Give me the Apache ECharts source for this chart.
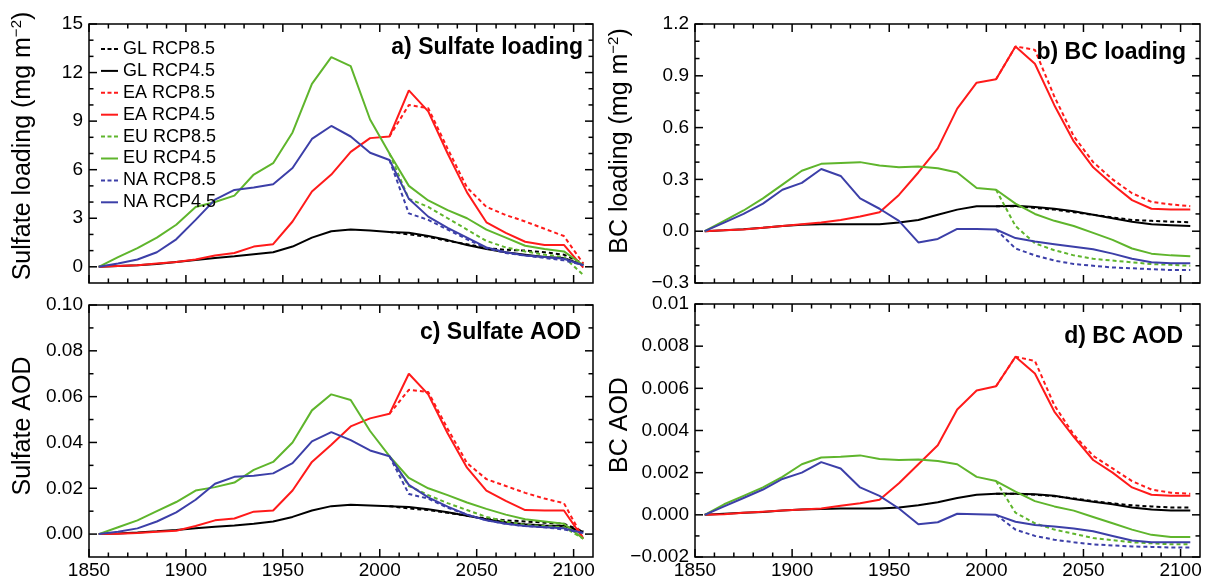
<!DOCTYPE html>
<html>
<head>
<meta charset="utf-8">
<script src="https://cdn.jsdelivr.net/npm/echarts@6/dist/echarts.min.js"></script>
<style>html,body{margin:0;padding:0;background:#fff;}#c{width:1206px;height:580px;}</style>
</head>
<body>
<div id="c"></div>
<script>
// ---------------- DATA ----------------
const years = [1855,1865,1875,1885,1895,1905,1915,1925,1935,1945,1955,1965,1975,1985,1995,2005,2015,2025,2035,2045,2055,2065,2075,2085,2095,2105];
const futureYears = [2005,2015,2025,2035,2045,2055,2065,2075,2085,2095,2105];

// a) Sulfate loading (mg m-2)
const sulfLoad_GL45 = [0,0.05,0.1,0.18,0.3,0.42,0.55,0.65,0.78,0.9,1.25,1.8,2.2,2.3,2.25,2.15,2.1,1.9,1.65,1.35,1.1,0.9,0.75,0.6,0.55,0.1];
const sulfLoad_GL85 = [2.15,2.0,1.85,1.6,1.4,1.15,1.05,1.0,0.9,0.75,0.2];
const sulfLoad_EA45 = [0,0.05,0.1,0.2,0.3,0.45,0.7,0.85,1.25,1.4,2.8,4.65,5.7,7.1,7.95,8.05,10.9,9.6,7.0,4.6,2.75,2.1,1.55,1.35,1.35,-0.05];
const sulfLoad_EA85 = [8.05,10.0,9.8,7.3,4.9,3.7,3.2,2.8,2.35,1.9,0.2];
const sulfLoad_EU45 = [0,0.6,1.15,1.8,2.6,3.7,4.0,4.4,5.7,6.4,8.3,11.3,12.95,12.4,9.1,7.0,5.0,4.1,3.5,3.0,2.3,1.8,1.3,1.1,0.95,0.1];
const sulfLoad_EU85 = [7.0,4.2,3.7,3.0,2.3,1.6,1.2,0.95,0.75,0.6,-0.5];
const sulfLoad_NA45 = [0,0.2,0.45,0.9,1.7,2.9,4.15,4.75,4.9,5.1,6.1,7.9,8.7,8.05,7.05,6.6,4.2,3.1,2.4,1.8,1.2,0.9,0.7,0.6,0.5,0.1];
const sulfLoad_NA85 = [6.6,3.3,2.9,2.3,1.7,1.15,0.85,0.7,0.55,0.4,0.1];

// b) BC loading (mg m-2)
const bcLoad_GL45 = [0,0.005,0.012,0.02,0.03,0.037,0.04,0.04,0.04,0.04,0.05,0.065,0.095,0.125,0.145,0.145,0.147,0.14,0.13,0.115,0.095,0.075,0.055,0.04,0.035,0.03];
const bcLoad_GL85 = [0.145,0.145,0.135,0.125,0.11,0.095,0.08,0.065,0.06,0.055,0.052];
const bcLoad_EA45 = [0,0.005,0.01,0.02,0.03,0.04,0.05,0.065,0.085,0.11,0.21,0.34,0.48,0.71,0.86,0.88,1.07,0.97,0.73,0.52,0.37,0.27,0.18,0.13,0.125,0.125];
const bcLoad_EA85 = [0.88,1.07,1.05,0.78,0.55,0.4,0.3,0.22,0.17,0.155,0.145];
const bcLoad_EU45 = [0,0.06,0.12,0.19,0.27,0.35,0.39,0.395,0.4,0.38,0.37,0.375,0.365,0.34,0.25,0.24,0.16,0.1,0.06,0.03,-0.01,-0.05,-0.1,-0.13,-0.14,-0.145];
const bcLoad_EU85 = [0.24,0.03,-0.07,-0.11,-0.14,-0.16,-0.17,-0.18,-0.19,-0.195,-0.2];
const bcLoad_NA45 = [0,0.05,0.1,0.16,0.24,0.28,0.36,0.32,0.19,0.13,0.06,-0.065,-0.045,0.013,0.013,0.01,-0.04,-0.06,-0.075,-0.09,-0.105,-0.13,-0.16,-0.18,-0.185,-0.185];
const bcLoad_NA85 = [0.01,-0.1,-0.14,-0.17,-0.19,-0.2,-0.21,-0.215,-0.22,-0.225,-0.225];

// c) Sulfate AOD
const sulfAod_GL45 = [0,0.0003,0.0007,0.0012,0.0018,0.0025,0.0032,0.0038,0.0045,0.0055,0.0075,0.0103,0.0122,0.0128,0.0125,0.0122,0.0118,0.0108,0.0095,0.008,0.0065,0.0052,0.0043,0.0038,0.0035,0.001];
const sulfAod_GL85 = [0.0122,0.0112,0.0105,0.0093,0.008,0.0068,0.006,0.0055,0.005,0.0045,0.0012];
const sulfAod_EA45 = [0,0.0002,0.0005,0.001,0.0015,0.0035,0.006,0.0068,0.0098,0.0103,0.019,0.0315,0.039,0.047,0.0505,0.0525,0.07,0.061,0.044,0.029,0.019,0.0145,0.0105,0.0103,0.0103,-0.002];
const sulfAod_EA85 = [0.0525,0.063,0.062,0.046,0.031,0.024,0.021,0.018,0.0155,0.0135,-0.002];
const sulfAod_EU45 = [0,0.003,0.006,0.01,0.014,0.019,0.0205,0.0225,0.028,0.0315,0.04,0.054,0.061,0.0585,0.045,0.034,0.0245,0.02,0.017,0.0138,0.011,0.0085,0.0065,0.0055,0.0045,-0.002];
const sulfAod_EU85 = [0.034,0.021,0.017,0.0135,0.0105,0.0075,0.0055,0.004,0.0035,0.003,-0.002];
const sulfAod_NA45 = [0,0.001,0.0025,0.0055,0.0095,0.015,0.022,0.025,0.0255,0.0265,0.031,0.0405,0.0445,0.041,0.0365,0.034,0.0215,0.016,0.012,0.0085,0.006,0.0045,0.0035,0.003,0.0025,0.0005];
const sulfAod_NA85 = [0.034,0.0175,0.0155,0.0115,0.0085,0.006,0.0045,0.0035,0.003,0.002,0.0005];

// d) BC AOD
const bcAod_GL45 = [0,0.00005,0.0001,0.00013,0.0002,0.00025,0.00028,0.0003,0.0003,0.0003,0.00035,0.00045,0.0006,0.0008,0.00095,0.001,0.001,0.00098,0.0009,0.00075,0.00062,0.0005,0.00035,0.00025,0.0002,0.0002];
const bcAod_GL85 = [0.001,0.001,0.00095,0.00088,0.00078,0.00065,0.00055,0.00045,0.0004,0.00035,0.00035];
const bcAod_EA45 = [0,0.00003,0.0001,0.00015,0.0002,0.00025,0.0003,0.00043,0.00055,0.00072,0.0015,0.0024,0.0033,0.005,0.0059,0.0061,0.0075,0.0067,0.0049,0.0037,0.0026,0.002,0.0013,0.00095,0.0009,0.0009];
const bcAod_EA85 = [0.0061,0.0075,0.0073,0.0052,0.0038,0.0028,0.0022,0.0016,0.0012,0.00105,0.001];
const bcAod_EU45 = [0,0.0005,0.0009,0.0013,0.0018,0.0024,0.00272,0.00275,0.00282,0.00265,0.0026,0.00263,0.00255,0.0024,0.0018,0.0016,0.0011,0.00065,0.0004,0.0002,-0.0001,-0.0004,-0.0007,-0.00095,-0.00105,-0.00105];
const bcAod_EU85 = [0.0016,0.0001,-0.0004,-0.0007,-0.0009,-0.0011,-0.0012,-0.0013,-0.00135,-0.0014,-0.0014];
const bcAod_NA45 = [0,0.0004,0.0008,0.0012,0.0017,0.002,0.0025,0.0022,0.0013,0.0009,0.0003,-0.00045,-0.00035,0.00005,0.00003,0,-0.00033,-0.00048,-0.00055,-0.00065,-0.00078,-0.001,-0.00122,-0.0013,-0.0013,-0.0013];
const bcAod_NA85 = [0,-0.0007,-0.001,-0.00118,-0.0013,-0.0014,-0.00145,-0.0015,-0.00152,-0.00155,-0.00155];

// ticks
const xMajorTicks = [1850,1900,1950,2000,2050,2100];
const xMinorTicks = [1860,1870,1880,1890,1910,1920,1930,1940,1960,1970,1980,1990,2010,2020,2030,2040,2060,2070,2080,2090];
const sulfLoadTicks = [0,3,6,9,12,15];
const sulfLoadMinor = [1,2,4,5,7,8,10,11,13,14];
const bcLoadTicks = [-0.3,0,0.3,0.6,0.9,1.2];
const bcLoadMinor = [-0.2,-0.1,0.1,0.2,0.4,0.5,0.7,0.8,1.0,1.1];
const sulfAodTicks = [0,0.02,0.04,0.06,0.08,0.10];
const sulfAodMinor = [0.01,0.03,0.05,0.07,0.09];
const bcAodTicks = [-0.002,0,0.002,0.004,0.006,0.008,0.01];
const bcAodMinor = [-0.001,0.001,0.003,0.005,0.007,0.009];

const legendNames = ['GL RCP8.5','GL RCP4.5','EA RCP8.5','EA RCP4.5','EU RCP8.5','EU RCP4.5','NA RCP8.5','NA RCP4.5'];

// ---------------- BUILD ----------------
const FONT = "'Liberation Sans', Arial, Helvetica, sans-serif";
const colors = {GL:'#000000', EA:'#ff1a1a', EU:'#5fb52c', NA:'#3c3fa8'};
const minus = v => (v < 0 ? '\u2212' : '');
const ICON_SOLID = 'path://M0,0h17v2h-17z';
const ICON_DASH = 'path://M0,0h4v2h-4z M6.5,0h4v2h-4z M13,0h4v2h-4z';
const X_MIN = 1850, X_MAX = 2110;

const panels = [
  {grid:{left:89, top:24, width:504, height:259}, ymin:-1, ymax:15, ticks:sulfLoadTicks, minor:sulfLoadMinor,
   fmt:v => String(v), name:'{a|Sulfate loading (mg m}{s|\u22122}{a|)}', nx:23, ny:146, title:'a) Sulfate loading', tRight:623, tTop:36, xLabels:false,
   d:{GL:[sulfLoad_GL45,sulfLoad_GL85], EA:[sulfLoad_EA45,sulfLoad_EA85], EU:[sulfLoad_EU45,sulfLoad_EU85], NA:[sulfLoad_NA45,sulfLoad_NA85]}},
  {grid:{left:695, top:24, width:505, height:259}, ymin:-0.3, ymax:1.2, ticks:bcLoadTicks, minor:bcLoadMinor,
   fmt:v => minus(v) + Math.abs(v).toFixed(1), name:'{a|BC loading (mg m}{s|\u22122}{a|)}', nx:620, ny:141, title:'b) BC loading', tRight:20, tTop:41, xLabels:false,
   d:{GL:[bcLoad_GL45,bcLoad_GL85], EA:[bcLoad_EA45,bcLoad_EA85], EU:[bcLoad_EU45,bcLoad_EU85], NA:[bcLoad_NA45,bcLoad_NA85]}},
  {grid:{left:89, top:305, width:504, height:252}, ymin:-0.01, ymax:0.10, ticks:sulfAodTicks, minor:sulfAodMinor,
   fmt:v => v.toFixed(2), name:'{a|Sulfate AOD}', nx:23, ny:426, title:'c) Sulfate AOD', tRight:625, tTop:321, xLabels:true,
   d:{GL:[sulfAod_GL45,sulfAod_GL85], EA:[sulfAod_EA45,sulfAod_EA85], EU:[sulfAod_EU45,sulfAod_EU85], NA:[sulfAod_NA45,sulfAod_NA85]}},
  {grid:{left:695, top:304, width:505, height:253}, ymin:-0.002, ymax:0.01, ticks:bcAodTicks, minor:bcAodMinor,
   fmt:v => (Math.abs(v - 0.01) < 1e-9 ? '0.01' : minus(v) + Math.abs(v).toFixed(3)), name:'{a|BC AOD}', nx:620, ny:425, title:'d) BC AOD', tRight:23, tTop:325, xLabels:true,
   d:{GL:[bcAod_GL45,bcAod_GL85], EA:[bcAod_EA45,bcAod_EA85], EU:[bcAod_EU45,bcAod_EU85], NA:[bcAod_NA45,bcAod_NA85]}}
];

const grid = [], xAxis = [], yAxis = [], series = [], title = [], graphic = [];

// Frame tick marks drawn through the axis scales (api.coord) on all four sides
function tickSeries(i, p, vals, len, horizontal) {
  return {type:'custom', xAxisIndex:i, yAxisIndex:i, silent:true, clip:false, z:5,
    data: vals.map(v => [v]),
    renderItem: (params, api) => {
      const cs = params.coordSys;
      const v = api.value(0);
      const st = {stroke:'#000', lineWidth:1.5};
      if (horizontal) {
        const x = api.coord([v, p.ymin])[0];
        return {type:'group', children:[
          {type:'line', shape:{x1:x, y1:cs.y + cs.height, x2:x, y2:cs.y + cs.height - len}, style:st},
          {type:'line', shape:{x1:x, y1:cs.y, x2:x, y2:cs.y + len}, style:st}]};
      }
      const y = api.coord([X_MIN, v])[1];
      return {type:'group', children:[
        {type:'line', shape:{x1:cs.x, y1:y, x2:cs.x + len, y2:y}, style:st},
        {type:'line', shape:{x1:cs.x + cs.width, y1:y, x2:cs.x + cs.width - len, y2:y}, style:st}]};
    }};
}

panels.forEach((p, i) => {
  grid.push(Object.assign({show:true, borderColor:'#000', borderWidth:1.5, backgroundColor:'transparent', containLabel:false, outerBoundsMode:'none'}, p.grid));
  xAxis.push({gridIndex:i, type:'value', min:X_MIN, max:X_MAX, position:'bottom',
    axisLine:{show:false, onZero:false}, splitLine:{show:false}, axisTick:{show:false},
    axisLabel:{show:p.xLabels, customValues:xMajorTicks, formatter:v => String(v), fontSize:19, color:'#000', fontFamily:FONT, margin:4}});
  yAxis.push({gridIndex:i, type:'value', min:p.ymin, max:p.ymax, position:'left',
    axisLine:{show:false, onZero:false}, splitLine:{show:false}, axisTick:{show:false},
    axisLabel:{show:true, customValues:p.ticks, formatter:p.fmt, fontSize:19, color:'#000', fontFamily:FONT, margin:6}});

  ['GL','EA','EU','NA'].forEach(r => {
    const [v45, v85] = p.d[r];
    series.push({name:r + ' RCP4.5', type:'line', xAxisIndex:i, yAxisIndex:i, symbol:'none', showSymbol:false,
      lineStyle:{color:colors[r], width:2, type:'solid'}, itemStyle:{color:colors[r]},
      data:years.map((y, k) => [y, v45[k]])});
    series.push({name:r + ' RCP8.5', type:'line', xAxisIndex:i, yAxisIndex:i, symbol:'none', showSymbol:false,
      lineStyle:{color:colors[r], width:2, type:[4,3]}, itemStyle:{color:colors[r]},
      data:futureYears.map((y, k) => [y, v85[k]])});
  });

  series.push(tickSeries(i, p, xMajorTicks, 8, true));
  series.push(tickSeries(i, p, xMinorTicks, 4.5, true));
  series.push(tickSeries(i, p, p.ticks, 8, false));
  series.push(tickSeries(i, p, p.minor, 4.5, false));

  title.push({text:p.title, right:p.tRight, top:p.tTop, padding:0,
    textStyle:{fontSize:23, fontWeight:'bold', fontFamily:FONT, color:'#000'}});

  graphic.push({type:'text', x:p.nx, y:p.ny, rotation:Math.PI/2, silent:true,
    style:{text:p.name, align:'center', verticalAlign:'middle', fill:'#000',
      rich:{a:{fontSize:25, fontFamily:FONT, fill:'#000', lineHeight:28},
            s:{fontSize:15, fontFamily:FONT, fill:'#000', lineHeight:28, verticalAlign:'top'}}}});
});

const option = {
  animation:false,
  title:title,
  graphic:graphic,
  legend:{data:legendNames.map(n => ({name:n, icon:(n.indexOf('8.5') >= 0 ? ICON_DASH : ICON_SOLID)})),
    orient:'vertical', left:101, top:40, itemWidth:17, itemHeight:2, itemGap:3.9,
    padding:0, textStyle:{fontSize:18, fontFamily:FONT, color:'#000', lineHeight:14}},
  grid:grid, xAxis:xAxis, yAxis:yAxis, series:series
};

const chart = echarts.init(document.getElementById('c'), null, {renderer:'canvas'});
chart.setOption(option);
</script>
</body>
</html>
